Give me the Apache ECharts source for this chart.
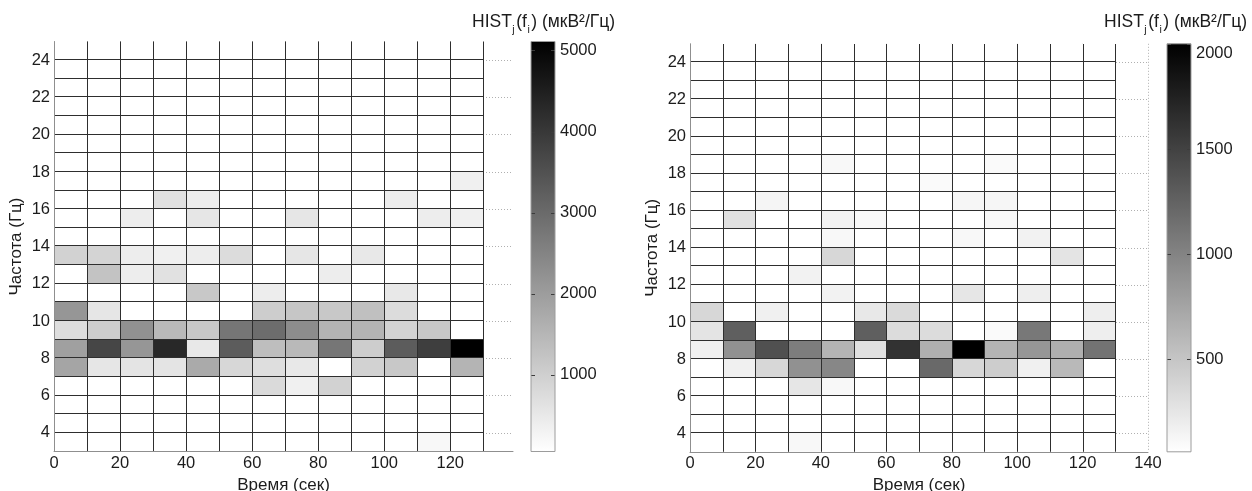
<!DOCTYPE html>
<html>
<head>
<meta charset="utf-8">
<title>HIST</title>
<script src="https://cdn.jsdelivr.net/npm/echarts@6/dist/echarts.min.js"></script>
<style>
  html, body { margin: 0; padding: 0; background: #ffffff; }
  #chart { width: 1252px; height: 491px; }
</style>
</head>
<body>
<div id="chart"></div>
<script>
// Time bins (start of each 10 s window) and frequency rows (lower edge of each 1 Hz band)
const timeStarts = [0, 10, 20, 30, 40, 50, 60, 70, 80, 90, 100, 110, 120];
const timeStep = 10;
const freqRows = [24, 23, 22, 21, 20, 19, 18, 17, 16, 15, 14, 13, 12, 11, 10, 9, 8, 7, 6, 5, 4, 3];
const freqStep = 1;

// Tick labels
const timeTicksA = [0, 20, 40, 60, 80, 100, 120];
const timeTicksB = [0, 20, 40, 60, 80, 100, 120, 140];
const freqTicks = [4, 6, 8, 10, 12, 14, 16, 18, 20, 22, 24];
const cbarTicksA = [1000, 2000, 3000, 4000, 5000];
const cbarTicksB = [500, 1000, 1500, 2000];

// Colour scale limits, мкВ²/Гц
const rangeA = [55, 5110];
const rangeB = [60, 2000];

// HIST values, one row per frequency band (24 Hz at the top ... 3 Hz at the bottom)
const histA = [
  [55, 55, 55, 55, 55, 55, 55, 55, 55, 55, 55, 55, 55],
  [55, 55, 55, 55, 55, 55, 55, 55, 55, 55, 55, 55, 55],
  [55, 55, 55, 55, 55, 55, 55, 55, 55, 55, 55, 55, 55],
  [55, 55, 55, 55, 55, 55, 55, 55, 55, 55, 55, 55, 55],
  [55, 55, 55, 55, 55, 55, 55, 55, 55, 55, 55, 55, 55],
  [55, 55, 55, 55, 55, 55, 55, 55, 55, 55, 55, 55, 55],
  [55, 55, 55, 55, 55, 55, 55, 55, 55, 55, 55, 55, 55],
  [55, 55, 55, 55, 55, 55, 55, 55, 55, 55, 55, 55, 352],
  [55, 55, 55, 650, 412, 55, 55, 55, 55, 55, 412, 55, 55],
  [55, 55, 412, 55, 551, 55, 55, 551, 55, 55, 55, 412, 352],
  [55, 55, 55, 55, 55, 55, 55, 55, 55, 55, 55, 55, 55],
  [947, 907, 412, 352, 412, 749, 55, 551, 55, 511, 55, 55, 55],
  [55, 1244, 412, 650, 55, 55, 55, 55, 412, 55, 55, 55, 55],
  [55, 55, 55, 55, 1145, 55, 412, 55, 55, 55, 511, 55, 55],
  [2136, 551, 55, 55, 55, 55, 1046, 1185, 1145, 1304, 749, 55, 55],
  [709, 1046, 2236, 1443, 1145, 2771, 2950, 2335, 1542, 1542, 947, 1145, 55],
  [1938, 3722, 2136, 4317, 511, 3286, 1344, 1443, 2771, 1046, 3286, 3881, 5110],
  [1839, 551, 590, 590, 1740, 848, 709, 511, 55, 947, 1145, 55, 1542],
  [55, 55, 55, 55, 55, 55, 788, 352, 947, 55, 55, 55, 55],
  [55, 55, 55, 55, 55, 55, 55, 55, 55, 55, 55, 55, 55],
  [55, 55, 55, 55, 55, 55, 55, 55, 55, 55, 55, 55, 55],
  [55, 55, 55, 55, 55, 55, 55, 55, 55, 55, 55, 194, 55]
];

const histB = [
  [60, 60, 60, 60, 60, 60, 60, 60, 60, 60, 60, 60, 60],
  [60, 60, 60, 60, 60, 60, 60, 60, 60, 60, 60, 60, 60],
  [60, 60, 60, 60, 60, 60, 60, 60, 60, 60, 60, 60, 60],
  [60, 60, 60, 60, 60, 60, 60, 60, 60, 60, 60, 60, 60],
  [60, 60, 60, 60, 60, 60, 60, 60, 60, 60, 60, 60, 60],
  [60, 60, 60, 60, 60, 60, 60, 60, 60, 60, 60, 60, 60],
  [60, 60, 60, 60, 113, 60, 60, 60, 60, 98, 60, 60, 60],
  [60, 60, 60, 60, 60, 60, 60, 98, 60, 60, 60, 60, 60],
  [60, 60, 136, 60, 60, 60, 60, 60, 128, 128, 60, 60, 60],
  [60, 288, 60, 60, 159, 113, 60, 60, 60, 113, 60, 60, 60],
  [60, 60, 60, 60, 113, 60, 60, 60, 113, 60, 159, 60, 60],
  [60, 60, 60, 60, 364, 60, 60, 60, 60, 60, 60, 265, 60],
  [60, 60, 60, 159, 60, 60, 60, 60, 60, 60, 60, 60, 60],
  [60, 60, 60, 60, 159, 60, 60, 60, 250, 60, 189, 60, 60],
  [364, 60, 174, 60, 60, 235, 341, 60, 60, 60, 60, 60, 189],
  [265, 1277, 60, 60, 60, 1277, 326, 326, 60, 98, 1087, 60, 189],
  [174, 897, 1391, 1049, 631, 288, 1620, 669, 2000, 631, 859, 669, 1125],
  [60, 174, 364, 897, 973, 60, 60, 1201, 364, 440, 174, 593, 60],
  [60, 60, 60, 250, 113, 60, 60, 60, 60, 60, 60, 60, 60],
  [60, 60, 60, 60, 60, 60, 60, 60, 60, 60, 60, 60, 60],
  [60, 60, 60, 60, 60, 60, 60, 60, 60, 60, 60, 60, 60],
  [60, 60, 60, 113, 60, 60, 60, 60, 60, 60, 60, 60, 60]
];

const FONT = 'Liberation Sans, Arial, Helvetica, sans-serif';
const TEXT = '#1c1c1c';
const AXIS = '#8f8f8f';
const EDGE = '#2e2e2e';
const TICK_SIZE = 16.5;
const NAME_SIZE = 17;

// [time, freq, value] triples for the custom cell series
function toCells(hist) {
  const cells = [];
  hist.forEach((row, r) => {
    row.forEach((v, c) => cells.push([timeStarts[c], freqRows[r], v]));
  });
  return cells;
}

const firstTime = Math.min(...timeStarts);
const lowestFreq = Math.min(...freqRows);

// pcolor-like cell: filled rectangle plus its left, bottom and right edges
function renderCell(params, api) {
  const t = api.value(0);
  const f = api.value(1);
  const lo = api.coord([t, f]);
  const hi = api.coord([t + timeStep, f + freqStep]);
  const x0 = Math.round(lo[0]), x1 = Math.round(hi[0]);
  const y0 = Math.round(lo[1]), y1 = Math.round(hi[1]);
  const children = [{
    type: 'rect',
    shape: { x: x0, y: y1, width: x1 - x0, height: y0 - y1 },
    style: { fill: api.visual('color') }
  }];
  const edgeStyle = { stroke: EDGE, lineWidth: 1, fill: null };
  if (t > firstTime) {
    children.push({ type: 'line', shape: { x1: x0 + 0.5, y1: y1, x2: x0 + 0.5, y2: y0 }, style: edgeStyle });
  }
  children.push({ type: 'line', shape: { x1: x1 + 0.5, y1: y1, x2: x1 + 0.5, y2: y0 }, style: edgeStyle });
  if (f > lowestFreq) {
    children.push({ type: 'line', shape: { x1: x0, y1: y0 - 0.5, x2: x1 + 1, y2: y0 - 0.5 }, style: edgeStyle });
  }
  return { type: 'group', children: children };
}

// colour bar: gradient rectangle spanning [min, max] with short inner ticks on both sides
function makeBarRenderer(ticks) {
  return function (params, api) {
    const lo = api.coord([0, api.value(1)]);
    const hi = api.coord([1, api.value(2)]);
    const children = [{
      type: 'rect',
      shape: { x: lo[0], y: hi[1], width: hi[0] - lo[0], height: lo[1] - hi[1] },
      style: {
        fill: new echarts.graphic.LinearGradient(0, 0, 0, 1, [
          { offset: 0, color: '#000000' },
          { offset: 1, color: '#ffffff' }
        ])
      }
    }];
    ticks.forEach(v => {
      const p = api.coord([0, v]);
      if (p[1] < hi[1] - 0.5 || p[1] > lo[1] + 0.5) return;
      const y = Math.round(p[1]) + 0.5;
      const tickStyle = { stroke: '#3c3c3c', lineWidth: 1 };
      children.push({ type: 'line', shape: { x1: lo[0], y1: y, x2: lo[0] + 4, y2: y }, style: tickStyle });
      children.push({ type: 'line', shape: { x1: hi[0] - 4, y1: y, x2: hi[0], y2: y }, style: tickStyle });
    });
    return { type: 'group', children: children };
  };
}

const labelStyle = { fontFamily: FONT, fontSize: TICK_SIZE, color: TEXT };
const nameStyle = { fontFamily: FONT, fontSize: NAME_SIZE, color: TEXT };
const plainNumber = v => String(v);

function heatX(gridIndex, max, ticks) {
  return {
    gridIndex: gridIndex, type: 'value', min: 0, max: max, z: 3,
    name: 'Время (сек)', nameLocation: 'middle', nameGap: 19, nameTextStyle: nameStyle,
    axisLine: { show: true, lineStyle: { color: AXIS, width: 1 } },
    axisTick: { show: false, customValues: ticks },
    axisLabel: Object.assign({ customValues: ticks, margin: 3, formatter: plainNumber }, labelStyle),
    splitLine: { show: false }
  };
}
function gridX(gridIndex, max, ticks) {
  return {
    gridIndex: gridIndex, type: 'value', min: 0, max: max, position: 'top', z: 0,
    axisLine: { show: false }, axisLabel: { show: false },
    axisTick: { show: false, customValues: ticks },
    splitLine: { show: true, lineStyle: { color: '#b0b0b0', type: [1, 2], width: 1 } }
  };
}
function heatY(gridIndex) {
  return {
    gridIndex: gridIndex, type: 'value', min: 3, max: 25, z: 3,
    name: 'Частота (Гц)', nameLocation: 'middle', nameRotate: 90, nameGap: 29, nameTextStyle: nameStyle,
    axisLine: { show: true, lineStyle: { color: AXIS, width: 1 } },
    axisTick: { show: false, customValues: freqTicks },
    axisLabel: Object.assign({ customValues: freqTicks, margin: 4, formatter: plainNumber }, labelStyle),
    splitLine: { show: false }
  };
}
function gridY(gridIndex) {
  return {
    gridIndex: gridIndex, type: 'value', min: 3, max: 25, position: 'right', z: 0,
    axisLine: { show: false }, axisLabel: { show: false },
    axisTick: { show: false, customValues: freqTicks },
    splitLine: { show: true, lineStyle: { color: '#b0b0b0', type: [1, 2], width: 1 } }
  };
}
function barX(gridIndex) {
  return { gridIndex: gridIndex, type: 'value', min: 0, max: 1, show: false };
}
// colour-bar labels; a label sitting on the very top of the bar is nudged down inside it
function barY(gridIndex, range, ticks) {
  return {
    gridIndex: gridIndex, type: 'value', min: range[0], max: range[1], position: 'right', z: 3,
    axisLine: { show: false },
    axisTick: { show: false, customValues: ticks },
    axisLabel: Object.assign({
      customValues: ticks, margin: 5,
      formatter: v => (v === range[1] ? '{top|' + v + '}' : String(v)),
      rich: { top: { fontFamily: FONT, fontSize: TICK_SIZE, color: TEXT, padding: [19, 0, 0, 0] } }
    }, labelStyle),
    splitLine: { show: false }
  };
}

const titleRich = {
  n: { fontFamily: FONT, fontSize: 17.5, fontWeight: 'normal', color: TEXT, lineHeight: 17, verticalAlign: 'top' },
  s: { fontFamily: FONT, fontSize: 10.5, fontWeight: 'normal', color: TEXT, lineHeight: 10, verticalAlign: 'top', padding: [12, 1.5, 0, 0.5] }
};
const titleText = '{n|HIST}{s|j}{n|(f}{s|i}{n|) (мкВ²/Гц)}';

const option = {
  animation: false,
  backgroundColor: '#ffffff',
  title: [
    { left: 472, top: 13, padding: 0, text: titleText, textStyle: { fontWeight: 'normal', rich: titleRich } },
    { left: 1104, top: 13, padding: 0, text: titleText, textStyle: { fontWeight: 'normal', rich: titleRich } }
  ],
  grid: [
    { left: 54, top: 41.5, width: 459, height: 410, outerBoundsMode: 'none' },
    { left: 531, top: 41.5, width: 24, height: 410, show: true, z: 3,
      backgroundColor: 'transparent', borderColor: '#9c9c9c', borderWidth: 1, outerBoundsMode: 'none' },
    { left: 690, top: 43.8, width: 458, height: 408, outerBoundsMode: 'none' },
    { left: 1167, top: 43.8, width: 24, height: 408, show: true, z: 3,
      backgroundColor: 'transparent', borderColor: '#9c9c9c', borderWidth: 1, outerBoundsMode: 'none' }
  ],
  xAxis: [
    heatX(0, 139, timeTicksA),
    barX(1),
    heatX(2, 140, timeTicksB),
    gridX(2, 140, timeTicksB),
    barX(3)
  ],
  yAxis: [
    heatY(0),
    gridY(0),
    barY(1, rangeA, cbarTicksA),
    heatY(2),
    gridY(2),
    barY(3, rangeB, cbarTicksB)
  ],
  visualMap: [
    { type: 'continuous', show: false, seriesIndex: 0, dimension: 2,
      min: rangeA[0], max: rangeA[1], inRange: { color: ['#ffffff', '#000000'] } },
    { type: 'continuous', show: false, seriesIndex: 2, dimension: 2,
      min: rangeB[0], max: rangeB[1], inRange: { color: ['#ffffff', '#000000'] } }
  ],
  series: [
    { type: 'custom', name: 'HIST A', xAxisIndex: 0, yAxisIndex: 0, clip: true,
      renderItem: renderCell, data: toCells(histA) },
    { type: 'custom', name: 'scale A', xAxisIndex: 1, yAxisIndex: 2,
      renderItem: makeBarRenderer(cbarTicksA), data: [[0, rangeA[0], rangeA[1]]] },
    { type: 'custom', name: 'HIST B', xAxisIndex: 2, yAxisIndex: 3, clip: true,
      renderItem: renderCell, data: toCells(histB) },
    { type: 'custom', name: 'scale B', xAxisIndex: 4, yAxisIndex: 5,
      renderItem: makeBarRenderer(cbarTicksB), data: [[0, rangeB[0], rangeB[1]]] }
  ]
};

const chart = echarts.init(document.getElementById('chart'), null, { renderer: 'canvas' });
chart.setOption(option);
</script>
</body>
</html>
